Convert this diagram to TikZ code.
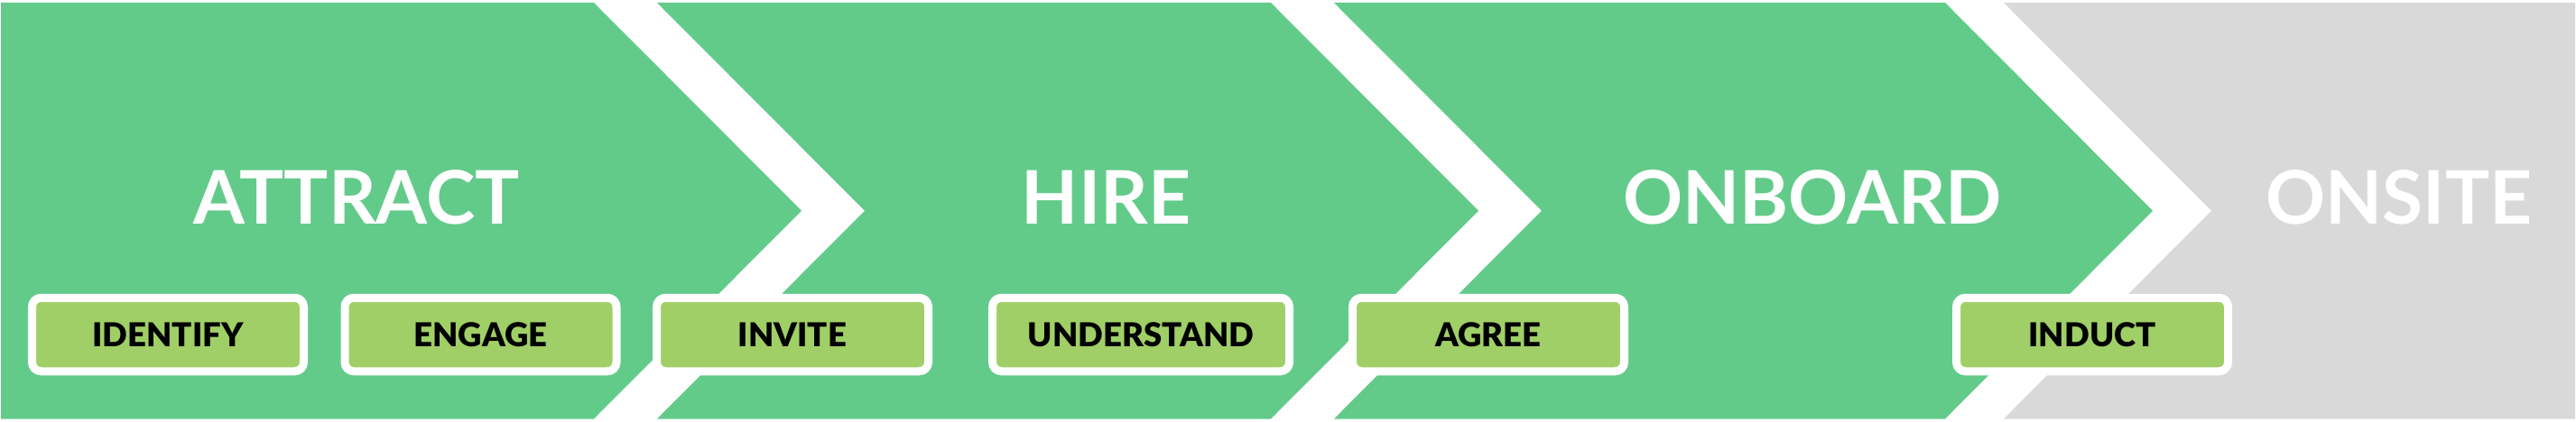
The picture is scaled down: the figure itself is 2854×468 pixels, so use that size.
\documentclass[tikz,border=0pt]{standalone}
\usepackage{fontspec}
\setmainfont{Lato}
\IfFontExistsTF{Lato Black}{\newfontfamily\taskfont{Lato Black}}{\newfontfamily\taskfont{Lato}[UprightFont=*-Bold]}
\definecolor{chevgreen}{HTML}{63CB8A}
\definecolor{chevgray}{HTML}{D9D9D9}
\definecolor{boxgreen}{HTML}{A0CF67}
\begin{document}
\begin{tikzpicture}[x=1pt,y=-1pt,
  stage/.style={fill=chevgreen,draw=none},
  title/.style={text=white,font=\fontsize{82}{90}\selectfont\bfseries,anchor=base,inner sep=0pt},
  task/.style={draw=white,line width=9pt,fill=boxgreen,rounded corners=10pt,
    minimum width=301pt,minimum height=81.5pt,inner sep=0pt,
    font=\taskfont\fontsize{36.5}{40}\selectfont,text=black},
]
\useasboundingbox (0,0) rectangle (2854,468);
\fill[white] (0,0) rectangle (2854,468);
% chevrons
\fill[stage] (1,3) -- (658,3) -- (888,233.75) -- (658,464.5) -- (1,464.5) -- cycle;
\fill[stage] (728,3) -- (1408,3) -- (1638,233.75) -- (1408,464.5) -- (728,464.5) -- (958,233.75) -- cycle;
\fill[stage] (1478,3) -- (2155,3) -- (2385,233.75) -- (2155,464.5) -- (1478,464.5) -- (1708,233.75) -- cycle;
\fill[chevgray] (2220,3) -- (2853,3) -- (2853,464.5) -- (2220,464.5) -- (2450,233.75) -- cycle;
% titles
\node[title] (attract) at (395,248) {ATTRACT};
\node[title] (hire) at (1225.5,248) {HIRE};
\node[title] (onboard) at (2008,248) {ONBOARD};
\node[title] (onsite) at (2658,248) {ONSITE};
% tasks
\node[task] (identify) at (186,371) {IDENTIFY};
\node[task] (engage) at (532.5,371) {ENGAGE};
\node[task] (invite) at (878,371) {INVITE};
\node[task,minimum width=329pt] (understand) at (1264,371) {UNDERSTAND};
\node[task] (agree) at (1649,371) {AGREE};
\node[task] (induct) at (2318,371) {INDUCT};
\end{tikzpicture}
\end{document}
